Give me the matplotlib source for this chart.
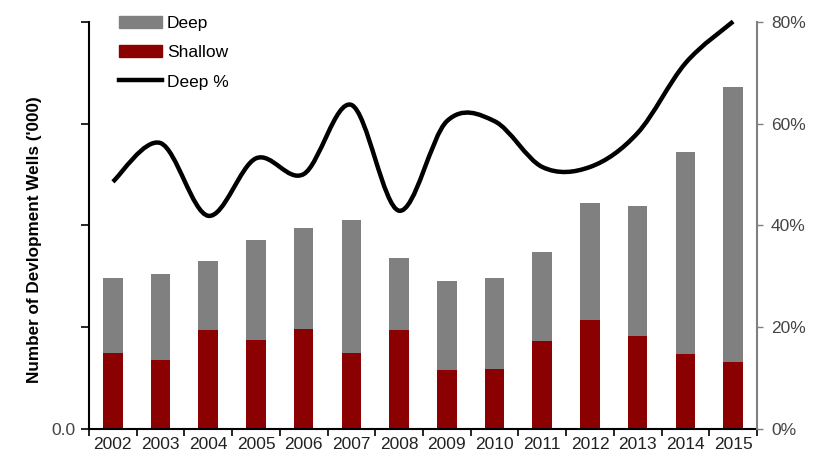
import matplotlib
matplotlib.use('Agg')
import matplotlib.pyplot as plt
from matplotlib.path import Path
from matplotlib.patches import PathPatch, Patch
from matplotlib.lines import Line2D
from matplotlib.ticker import FuncFormatter, FixedLocator

plt.rcParams['font.family'] = ['Liberation Sans', 'DejaVu Sans']

years = ['2002', '2003', '2004', '2005', '2006', '2007', '2008',
         '2009', '2010', '2011', '2012', '2013', '2014', '2015']
shallow = [0.75, 0.68, 0.97, 0.87, 0.98, 0.75, 0.97,
           0.58, 0.59, 0.86, 1.07, 0.91, 0.74, 0.66]
deep = [0.73, 0.84, 0.68, 0.99, 1.00, 1.30, 0.71,
        0.87, 0.89, 0.88, 1.15, 1.28, 1.98, 2.70]
deep_pct = [0.486, 0.562, 0.419, 0.532, 0.501, 0.637, 0.429,
            0.605, 0.605, 0.515, 0.515, 0.582, 0.719, 0.801]

GRAY = '#808080'
RED = '#8B0000'

fig = plt.figure(figsize=(8.23, 4.71), dpi=100)
ax = fig.add_axes([0.1081, 0.0892, 0.8117, 0.8641])
ax2 = ax.twinx()

x = list(range(len(years)))
ax.bar(x, shallow, width=0.41, color=RED, zorder=2)
ax.bar(x, deep, width=0.41, bottom=shallow, color=GRAY, zorder=2)

ax.set_xlim(-0.5, len(years) - 0.5)
ax.set_ylim(0, 4)
ax.set_xticks(x)
ax.set_xticklabels(years, fontsize=12.5, color='#222222')
ax.xaxis.set_minor_locator(FixedLocator([i + 0.5 for i in range(-1, len(years))]))
ax.tick_params(axis='x', which='major', length=0, pad=6)
ax.tick_params(axis='x', which='minor', length=5, width=1.2, direction='out')
ax.set_yticks([0, 1, 2, 3, 4])
ax.set_yticklabels(['0.0', '', '', '', ''], fontsize=12.5, color='#444444')
ax.tick_params(axis='y', length=6, width=1.2, direction='out')
ax.set_ylabel("Number of Devlopment Wells ('000)", fontsize=12.3,
              fontweight='bold')
ax.yaxis.set_label_coords(-0.07, 0.465)

for s in ['top', 'right']:
    ax.spines[s].set_visible(False)
ax.spines['left'].set_linewidth(1.5)
ax.spines['bottom'].set_linewidth(1.5)

# smoothed line (Excel-style bezier through the points)
pts = list(zip(x, deep_pct))
verts = [pts[0]]
codes = [Path.MOVETO]
n = len(pts)
for i in range(n - 1):
    p0 = pts[i - 1] if i > 0 else pts[i]
    p1 = pts[i]
    p2 = pts[i + 1]
    p3 = pts[i + 2] if i + 2 < n else pts[i + 1]
    c1 = (p1[0] + (p2[0] - p0[0]) / 6, p1[1] + (p2[1] - p0[1]) / 6)
    c2 = (p2[0] - (p3[0] - p1[0]) / 6, p2[1] - (p3[1] - p1[1]) / 6)
    verts += [c1, c2, p2]
    codes += [Path.CURVE4] * 3
ax2.add_patch(PathPatch(Path(verts, codes), facecolor='none', edgecolor='black',
                        lw=3.2, capstyle='butt', zorder=3, clip_on=False))

ax2.set_ylim(0, 0.8)
ax2.set_yticks([0, 0.2, 0.4, 0.6, 0.8])
ax2.yaxis.set_major_formatter(FuncFormatter(lambda v, p: '%d%%' % round(v * 100)))
ax2.tick_params(axis='y', length=4, width=1.0, color=GRAY, labelsize=12.5,
                labelcolor='#444444', pad=6)
for s in ['top', 'left', 'bottom']:
    ax2.spines[s].set_visible(False)
ax2.spines['right'].set_color(GRAY)
ax2.spines['right'].set_linewidth(1.5)

handles = [Patch(color=GRAY), Patch(color=RED), Line2D([], [], color='black', lw=3.2)]
fig.legend(handles, ['Deep', 'Shallow', 'Deep %'], loc='upper left',
           bbox_to_anchor=(0.125, 1.0), frameon=False, fontsize=12.5,
           handlelength=2.5, handleheight=0.7, handletextpad=0.3,
           labelspacing=0.82)

fig.savefig('out.png', dpi=100)
